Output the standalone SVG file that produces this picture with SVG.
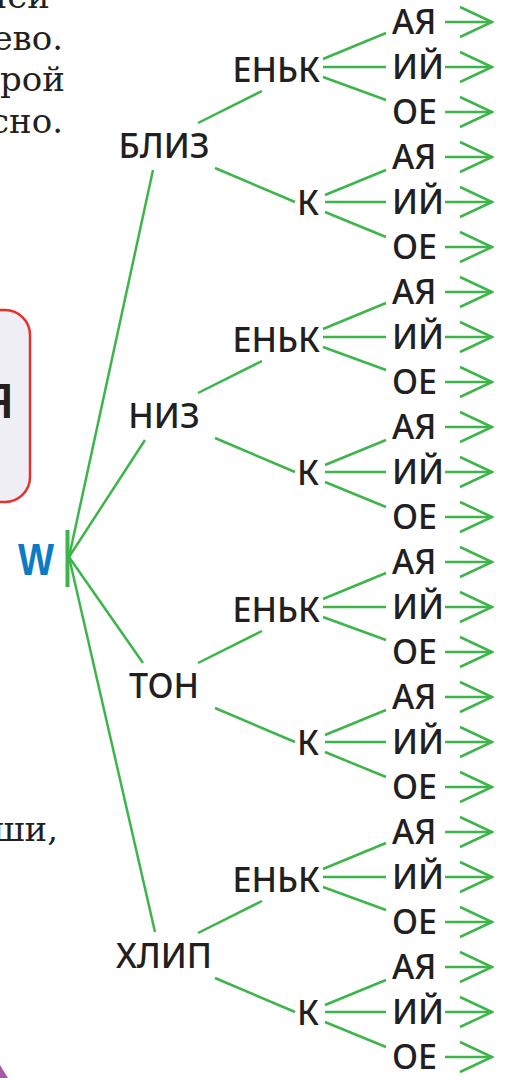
<svg xmlns="http://www.w3.org/2000/svg" width="505" height="1078" viewBox="0 0 505 1078">
<style>
.serif{font-family:"DejaVu Serif","Liberation Serif",serif;font-size:34px;fill:#231f20;text-anchor:end}
.n{font-family:"Noto Sans","Liberation Sans",sans-serif;font-size:34px;font-weight:500;fill:#231f20}
.m{text-anchor:middle}
.e{text-anchor:end}
.c{stroke:#3db54a;stroke-width:2.5;fill:none;stroke-linecap:butt}
.a{stroke:#3db54a;stroke-width:2.5;fill:none;marker-end:url(#arr)}
</style>
<defs>
<marker id="arr" markerUnits="userSpaceOnUse" viewBox="0 0 36 34" refX="34" refY="17" markerWidth="36" markerHeight="34" orient="auto">
<path d="M2,2 L34,17 L2,32" fill="none" stroke="#3db54a" stroke-width="2.5"/>
</marker>
</defs>
<rect width="505" height="1078" fill="#ffffff"/>
<g id="page-text">
<text class="serif" x="50" y="8">ней</text>
<text class="serif" x="63" y="50">ево.</text>
<text class="serif" x="65" y="91">рой</text>
<text class="serif" x="63" y="133">сно.</text>
<text class="serif" x="58" y="841">ши,</text>
</g>
<g id="box">
<rect x="-40" y="310" width="70" height="192" rx="25" fill="#efeef5" stroke="#e8312a" stroke-width="2.5"/>
<text class="n e" x="14" y="418" style="font-size:46px;font-weight:600">Я</text>
</g>
<path id="corner" d="M0,1065 L8,1078 L0,1078 Z" fill="#a35ba6"/>
<g id="connectors">
<line class="c" x1="67.5" y1="530" x2="67.5" y2="587" style="stroke-width:4"/>
<line class="c" x1="69" y1="557" x2="153" y2="170"/>
<line class="c" x1="69" y1="557" x2="145" y2="440"/>
<line class="c" x1="69" y1="557" x2="143" y2="663"/>
<line class="c" x1="69" y1="557" x2="155" y2="932"/>
<g id="c-bliz">
<line class="c" x1="198" y1="123" x2="262" y2="91"/>
<line class="c" x1="215" y1="168" x2="295" y2="202"/>
<line class="c" x1="323" y1="59" x2="386" y2="33"/>
<line class="c" x1="323" y1="67" x2="386" y2="67"/>
<line class="c" x1="323" y1="77" x2="386" y2="100"/>
<line class="c" x1="325" y1="195" x2="386" y2="170"/>
<line class="c" x1="325" y1="202" x2="386" y2="202"/>
<line class="c" x1="325" y1="212" x2="386" y2="237"/>
</g>
<use href="#c-bliz" y="270"/>
<use href="#c-bliz" y="540"/>
<use href="#c-bliz" y="810"/>
<g id="arrows">
<line class="a" x1="445" y1="22" x2="492" y2="22"/>
<line class="a" x1="445" y1="67" x2="492" y2="67"/>
<line class="a" x1="445" y1="112" x2="492" y2="112"/>
<line class="a" x1="445" y1="157" x2="492" y2="157"/>
<line class="a" x1="445" y1="202" x2="492" y2="202"/>
<line class="a" x1="445" y1="247" x2="492" y2="247"/>
</g>
<use href="#arrows" y="270"/>
<use href="#arrows" y="540"/>
<use href="#arrows" y="810"/>
</g>
<g id="root">
<text x="18" y="575" textLength="36" lengthAdjust="spacingAndGlyphs" style="font-family:'Liberation Sans',sans-serif;font-weight:bold;font-size:44px;fill:#0a7bc4">W</text>
</g>
<g id="bliz"><text class="n m" x="164" y="158">БЛИЗ</text></g>
<g id="niz"><text class="n m" x="164" y="428">НИЗ</text></g>
<g id="ton"><text class="n m" x="164" y="698">ТОН</text></g>
<g id="hlip"><text class="n m" x="164" y="968">ХЛИП</text></g>
<g id="suffixes">
<g id="s1">
<text class="n e" x="320" y="82">ЕНЬК</text>
<text class="n e" x="319" y="215">К</text>
<text class="n" x="392" y="33.5">АЯ</text>
<text class="n" x="392" y="78.5">ИЙ</text>
<text class="n" x="392" y="123.5">ОЕ</text>
<text class="n" x="392" y="168.5">АЯ</text>
<text class="n" x="392" y="213.5">ИЙ</text>
<text class="n" x="392" y="258.5">ОЕ</text>
</g>
<g id="s2" transform="translate(0,270)">
<text class="n e" x="320" y="82">ЕНЬК</text>
<text class="n e" x="319" y="215">К</text>
<text class="n" x="392" y="33.5">АЯ</text>
<text class="n" x="392" y="78.5">ИЙ</text>
<text class="n" x="392" y="123.5">ОЕ</text>
<text class="n" x="392" y="168.5">АЯ</text>
<text class="n" x="392" y="213.5">ИЙ</text>
<text class="n" x="392" y="258.5">ОЕ</text>
</g>
<g id="s3" transform="translate(0,540)">
<text class="n e" x="320" y="82">ЕНЬК</text>
<text class="n e" x="319" y="215">К</text>
<text class="n" x="392" y="33.5">АЯ</text>
<text class="n" x="392" y="78.5">ИЙ</text>
<text class="n" x="392" y="123.5">ОЕ</text>
<text class="n" x="392" y="168.5">АЯ</text>
<text class="n" x="392" y="213.5">ИЙ</text>
<text class="n" x="392" y="258.5">ОЕ</text>
</g>
<g id="s4" transform="translate(0,810)">
<text class="n e" x="320" y="82">ЕНЬК</text>
<text class="n e" x="319" y="215">К</text>
<text class="n" x="392" y="33.5">АЯ</text>
<text class="n" x="392" y="78.5">ИЙ</text>
<text class="n" x="392" y="123.5">ОЕ</text>
<text class="n" x="392" y="168.5">АЯ</text>
<text class="n" x="392" y="213.5">ИЙ</text>
<text class="n" x="392" y="258.5">ОЕ</text>
</g>
</g>
</svg>
